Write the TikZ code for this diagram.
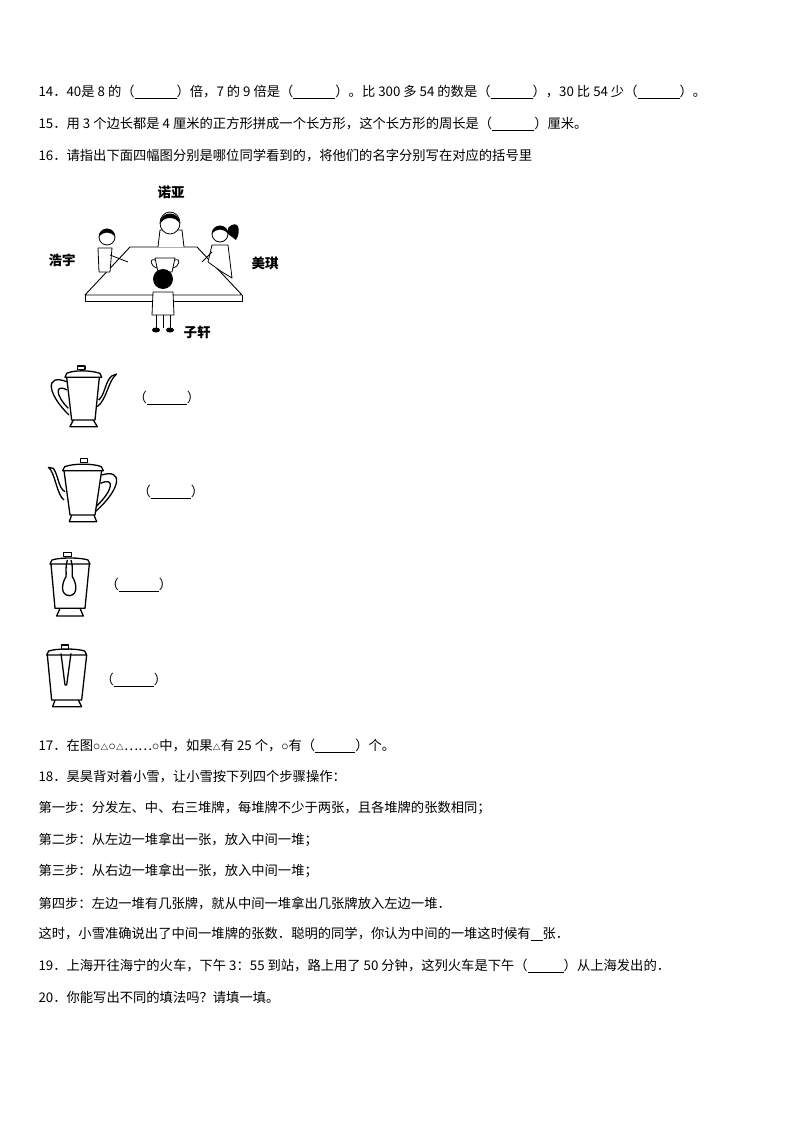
\documentclass[tikz,border=0pt]{standalone}
\usepackage{fontspec}
\setmainfont{Noto Sans CJK SC}
\begin{document}
\begin{tikzpicture}[x=1pt,y=-1pt,line width=1.1pt,line join=round,
  txt/.style={anchor=west,inner sep=0pt,font=\fontsize{13.3}{15}\selectfont},
  lbl/.style={inner sep=0pt,font=\fontsize{13.5}{15}\selectfont\bfseries}]
\useasboundingbox (0,0) rectangle (794,1123);
\newcommand{\blk}[1]{（\underline{\hspace{#1}}）}
\newcommand{\tri}{$\scriptstyle\triangle$}
\newcommand{\cir}{$\circ$}
\node[txt] (q14) at (38,92) {14．40是 8 的\blk{42pt}倍，7 的 9 倍是\blk{42pt}。比 300 多 54 的数是\blk{42pt}，30 比 54 少\blk{42pt}。};
\node[txt] (q15) at (38,124) {15．用 3 个边长都是 4 厘米的正方形拼成一个长方形，这个长方形的周长是\blk{42pt}厘米。};
\node[txt] (q16) at (38,156) {16．请指出下面四幅图分别是哪位同学看到的，将他们的名字分别写在对应的括号里};
% figure
\node[lbl] (ny) at (171,192) {诺亚};
\node[lbl] (hy) at (62,260) {浩宇};
\node[lbl] (mq) at (265,263) {美琪};
\node[lbl] (zx) at (197,332) {子轩};
\draw[line width=0.9pt] (130,247) -- (197,247) -- (242,295) -- (85,295) -- cycle;
\draw[line width=0.9pt] (85,295) -- (85,301) -- (242,301) -- (242,295);
% Nuo Ya
\draw[line width=0.8pt,fill=white] (158,247) -- (160,230) -- (182,230) -- (184,247);
\draw[line width=0.8pt,fill=white] (170,223) ellipse (10 and 11);
\fill (160,224) .. controls (160,210) and (180,210) .. (180,224) .. controls (176,216) and (164,216) .. (160,224);
% Hao Yu
\draw[line width=0.8pt,fill=white] (98,248) -- (99,272) -- (110,272) -- (112,248) -- cycle;
\draw[line width=0.8pt] (110,255) -- (128,262);
\draw[line width=0.8pt,fill=white] (107,237) circle (8);
\fill (99,237) .. controls (99,226) and (115,226) .. (115,237) .. controls (111,231) and (103,231) .. (99,237);
% Mei Qi
\draw[line width=0.8pt,fill=white] (212,245) -- (208,262) -- (222,272) -- (232,278) -- (228,245) -- cycle;
\draw[line width=0.8pt] (212,252) -- (202,262);
\draw[line width=0.8pt,fill=white] (220,234) circle (8);
\fill (212,234) .. controls (212,223) and (228,223) .. (228,234) .. controls (224,228) and (216,228) .. (212,234);
\fill (228,228) .. controls (238,218) and (242,230) .. (236,240) -- (228,234) -- cycle;
% teapot on table
\draw[line width=0.8pt,fill=white] (155,258) -- (158,272) -- (172,272) -- (175,258) -- cycle;
\draw[line width=0.8pt] (155,260) .. controls (149,258) and (150,266) .. (157,268);
\draw[line width=0.8pt] (175,260) .. controls (181,258) and (180,266) .. (173,268);
% Zi Xuan
\draw[line width=0.8pt,fill=white] (153,292) -- (152,315) -- (174,315) -- (173,292) -- cycle;
\draw[line width=0.8pt] (156,315) -- (156,328) (163,315) -- (163,328) (170,315) -- (170,328);
\fill (156,330) ellipse (4 and 2.5) (170,330) ellipse (4 and 2.5);
\fill (163,279) circle (10);
% teapots
\begin{scope}[shift={(40,360)},scale=1/3,line width=1.3pt]
 % pot 1
 \draw (112,28) rectangle (135,18);
 \draw (75,52) -- (80,40) .. controls (100,30) and (150,30) .. (180,40) -- (185,52) -- cycle;
 \draw (80,52) -- (95,180) -- (165,180) -- (178,52);
 \draw (100,180) -- (90,200) -- (172,200) -- (160,180);
 \draw (80,65) .. controls (15,40) and (20,100) .. (87,165);
 \draw (81,90) .. controls (45,70) and (45,105) .. (85,145);
 \draw (172,140) .. controls (200,120) and (205,60) .. (230,42);
 \draw (176,120) .. controls (195,105) and (195,65) .. (215,48) -- (230,42);
 % pot 2
 \draw (122,308) rectangle (142,296);
 \draw (68,332) -- (74,320) .. controls (100,310) and (160,310) .. (184,320) -- (190,332) -- cycle;
 \draw (72,332) -- (90,465) -- (165,465) -- (185,332);
 \draw (95,465) -- (88,485) -- (170,485) -- (162,465);
 \draw (72,420) .. controls (50,405) and (45,335) .. (25,322) -- (40,325) .. controls (55,345) and (55,385) .. (75,395);
 \draw (185,345) .. controls (250,325) and (245,385) .. (166,455);
 \draw (182,370) .. controls (225,350) and (220,390) .. (170,438);
 % pot 3
 \draw (70,590) rectangle (95,578);
 \draw (30,612) -- (36,600) .. controls (60,592) and (120,592) .. (144,600) -- (150,612) -- cycle;
 \draw (33,612) -- (45,745) -- (135,745) -- (148,612);
 \draw (60,745) -- (50,768) -- (130,768) -- (120,745);
 \draw (82,600) .. controls (75,620) and (80,640) .. (78,650) .. controls (65,670) and (60,705) .. (88,707) .. controls (115,705) and (110,670) .. (97,650) .. controls (95,640) and (100,620) .. (93,600);
 % pot 4
 \draw (65,868) rectangle (85,855);
 \draw (20,885) -- (26,873) .. controls (50,865) and (110,865) .. (134,873) -- (140,885) -- cycle;
 \draw (22,885) -- (35,1020) -- (125,1020) -- (140,885);
 \draw (45,1020) -- (38,1040) -- (125,1040) -- (115,1020);
 \draw (63,880) -- (75,975) -- (80,975) -- (93,880);
\end{scope}
\node[txt] (b1) at (133,398) {\blk{40pt}};
\node[txt] (b2) at (137,492) {\blk{40pt}};
\node[txt] (b3) at (105,585) {\blk{40pt}};
\node[txt] (b4) at (100,680) {\blk{40pt}};
\node[txt] (q17) at (38,746) {17．在图\cir\tri\cir\tri……\cir 中，如果\tri 有 25 个，\cir 有\blk{40pt}个。};
\node[txt] (q18) at (38,777) {18．昊昊背对着小雪，让小雪按下列四个步骤操作：};
\node[txt] (s1) at (38,808) {第一步：分发左、中、右三堆牌，每堆牌不少于两张，且各堆牌的张数相同；};
\node[txt] (s2) at (38,840) {第二步：从左边一堆拿出一张，放入中间一堆；};
\node[txt] (s3) at (38,871) {第三步：从右边一堆拿出一张，放入中间一堆；};
\node[txt] (s4) at (38,903) {第四步：左边一堆有几张牌，就从中间一堆拿出几张牌放入左边一堆．};
\node[txt] (s5) at (38,934) {这时，小雪准确说出了中间一堆牌的张数．聪明的同学，你认为中间的一堆这时候有\underline{\hspace{12pt}}张．};
\node[txt] (q19) at (38,966) {19．上海开往海宁的火车，下午 3：55 到站，路上用了 50 分钟，这列火车是下午\blk{36pt}从上海发出的．};
\node[txt] (q20) at (38,997) {20．你能写出不同的填法吗？请填一填。};
\end{tikzpicture}
\end{document}
